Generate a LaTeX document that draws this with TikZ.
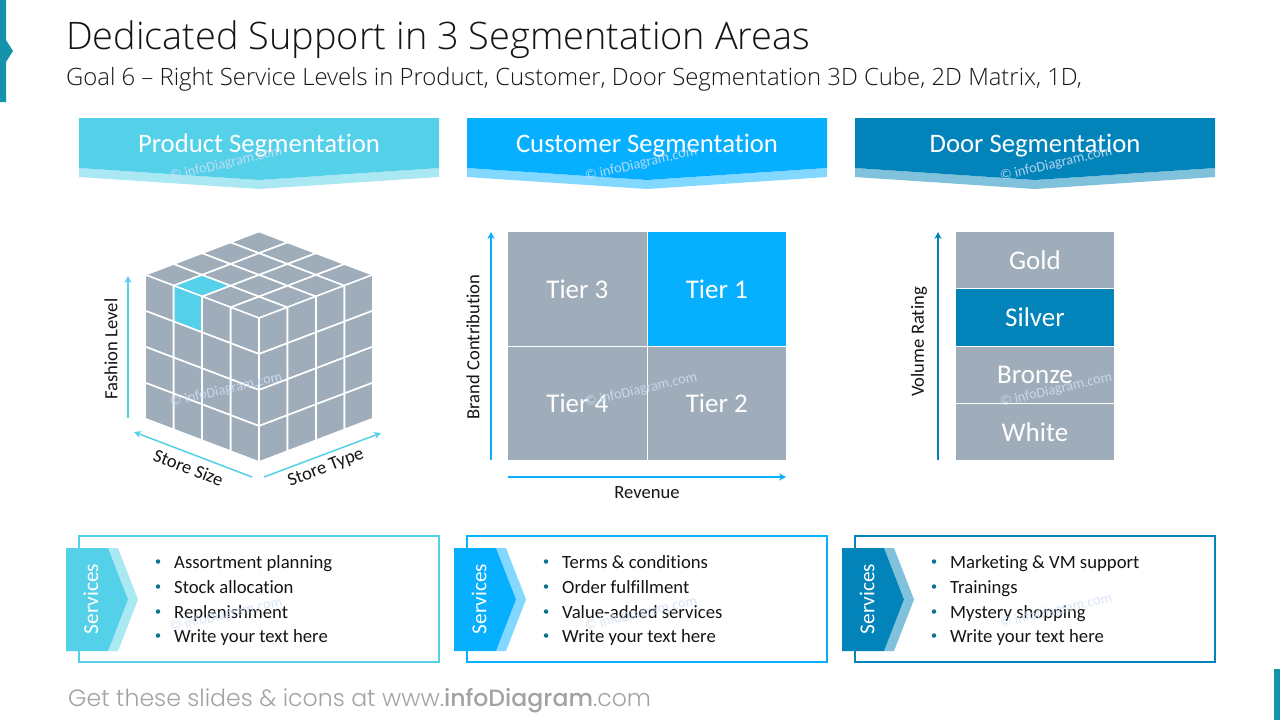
\documentclass[tikz,border=0pt]{standalone}
\usepackage{fontspec}
\setmainfont{Carlito}[Ligatures=NoCommon]
\newfontfamily\footfont{Poppins Light}[BoldFont={Poppins Medium}]
\newfontfamily\headfont{Open Sans Light}
\usetikzlibrary{arrows.meta,calc}
\definecolor{cA}{HTML}{55D0E9}\definecolor{cAl}{HTML}{AAE8F4}
\definecolor{cB}{HTML}{07B0FF}\definecolor{cBl}{HTML}{83D8FF}
\definecolor{cC}{HTML}{0284BA}\definecolor{cCl}{HTML}{80C1DC}
\definecolor{gr}{HTML}{9FADBA}\definecolor{teal}{HTML}{1593AA}
\definecolor{ink}{HTML}{151515}\definecolor{bul}{HTML}{0F6E93}
\definecolor{wm}{HTML}{D0E0F5}\definecolor{foot}{HTML}{A3A3A3}
\tikzset{
 px/.style={font=\fontsize{#1}{#1}\selectfont,inner sep=0pt},
 axis/.style={line width=1.5pt,-{Stealth[length=7pt,width=7pt]}},
 lab/.style={px=18.6,text=ink},
 cell/.style={fill=gr,draw=white,line width=1.6pt,line join=round},
 tier/.style={fill=gr,draw=white,line width=0.8pt,px=27,text=white,minimum width=139.6pt,minimum height=114.6pt,outer sep=0pt},
 rung/.style={fill=gr,draw=white,line width=0.8pt,px=27,text=white,minimum width=158.6pt,minimum height=57.4pt,outer sep=0pt},
 wmark/.style={px=14.3,text=wm,opacity=.85,rotate=13},
 item/.style={px=18.7,text=ink,anchor=base west},
 dot/.style={circle,fill=bul,minimum size=4.5pt,inner sep=0pt},
}
\newcommand{\segm}[5]{% offset, main, light, title, id
 \begin{scope}[xshift=#1pt]
  \fill[#3] (79,168) -- (259,180) -- (439,168) -- (439,177) -- (259,189) -- (79,177) -- cycle;
  \fill[#2] (79,118) -- (439,118) -- (439,168) -- (259,180) -- (79,168) -- cycle;
  \node[px=26.7,text=white] (head#5) at (259,145.5) {#4};
  \node[draw=#2,line width=2pt,outer sep=0pt,minimum width=360pt,minimum height=126pt,inner sep=0pt,anchor=north west] (box#5) at (79,536) {};
  \fill[#3] (108,548) -- (118,548) -- (138,599.5) -- (118,651) -- (108,651) -- (128,599.5) -- cycle;
  \fill[#2] (66,548) -- (108,548) -- (128,599.5) -- (108,651) -- (66,651) -- cycle;
  \node[px=21.3,text=white,rotate=90] (serv#5) at (91,599) {Services};
 \end{scope}}
\newcommand{\bulls}[5]{%
 \begin{scope}[xshift=#1pt]
  \foreach \yy/\tt in {568/{#2},593/{#3},618/{#4},642/{#5}}{
   \node[dot] at (158,\yy-6.5) {};
   \node[item] at (174,\yy) {\tt};
  }
 \end{scope}}
\newcommand{\low}[1]{\raisebox{-1pt}{#1}}
\begin{document}
\begin{tikzpicture}[x=1pt,y=-1pt]
\useasboundingbox (0,0) rectangle (1280,720);
\fill[white] (0,0) rectangle (1280,720);
\fill[teal] (0,0) -- (6,0) -- (6,40) -- (13,51) -- (6,62) -- (6,102) -- (0,102) -- cycle;
\fill[teal] (1274,669) rectangle (1280,720);
\node[text=ink,inner sep=0pt,anchor=base west,font=\fontsize{37.9}{38}\headfont] (title) at (66,49) {Dedicated Support in 3 Segmentation Areas};
\node[text=ink,inner sep=0pt,anchor=base west,font=\fontsize{23.86}{24}\headfont] (sub) at (66,85) {Goal 6 – Right Service Levels in Product, Customer, Door Segmentation 3D Cube, 2D Matrix, 1D,};
\segm{0}{cA}{cAl}{Product Segmentation}{a}
\segm{388}{cB}{cBl}{Customer Segmentation}{b}
\segm{776}{cC}{cCl}{Door Segmentation}{c}
\bulls{0}{Assortment planning}{Stock allocation}{Replenishment}{Write your text here}
\bulls{388}{Terms \& conditions}{Order fulfillment}{Value-added services}{Write your text here}
\bulls{776}{Marketing \& VM support}{Trainings}{Mystery shopping}{Write your text here}
% cube: top face
\foreach \i in {0,...,3}\foreach \j in {0,...,3}{
 \pgfmathsetmacro\cl{(\i==1 && \j==3) ? 1 : 0}
 \ifdim\cl pt=1pt\def\ff{cA}\else\def\ff{gr}\fi
 \draw[cell,fill=\ff,rounded corners=1pt]
  ($(259,231.5)+\i*(28.5,10.85)+\j*(-28.5,10.85)$) --
  ($(259,231.5)+\i*(28.5,10.85)+\j*(-28.5,10.85)+(28.5,10.85)$) --
  ($(259,231.5)+\i*(28.5,10.85)+\j*(-28.5,10.85)+(0,21.7)$) --
  ($(259,231.5)+\i*(28.5,10.85)+\j*(-28.5,10.85)+(-28.5,10.85)$) -- cycle;
}
% cube: left and right faces
\foreach \i in {0,...,3}\foreach \j in {0,...,3}{
 \pgfmathsetmacro\cl{(\i==2 && \j==0) ? 1 : 0}
 \ifdim\cl pt=1pt\def\ff{cA}\else\def\ff{gr}\fi
 \draw[cell,fill=\ff]
  ($(259,318)+\i*(-28.5,-10.85)+\j*(0,36)$) --
  ($(259,318)+\i*(-28.5,-10.85)+\j*(0,36)+(-28.5,-10.85)$) --
  ($(259,318)+\i*(-28.5,-10.85)+\j*(0,36)+(-28.5,25.15)$) --
  ($(259,318)+\i*(-28.5,-10.85)+\j*(0,36)+(0,36)$) -- cycle;
 \draw[cell]
  ($(259,318)+\i*(28.5,-10.85)+\j*(0,36)$) --
  ($(259,318)+\i*(28.5,-10.85)+\j*(0,36)+(28.5,-10.85)$) --
  ($(259,318)+\i*(28.5,-10.85)+\j*(0,36)+(28.5,25.15)$) --
  ($(259,318)+\i*(28.5,-10.85)+\j*(0,36)+(0,36)$) -- cycle;
}
\coordinate (fa) at (128,418); \coordinate (fb) at (128,276);
\coordinate (sa) at (252,477); \coordinate (sb) at (134,432);
\coordinate (ta) at (264,477); \coordinate (tb) at (381,433);
\draw[axis,cA] (fa) -- (fb);
\draw[axis,cA] (sa) -- (sb);
\draw[axis,cA] (ta) -- (tb);
\node[lab,rotate=90] (fl) at (111,349) {Fashion Level};
\node[lab,rotate=-21] (ss) at (188.5,467.5) {Store Size};
\node[lab,rotate=21] (st) at (326,468) {Store Type};
% matrix
\node[tier] (t3) at (577.4,289) {\low{Tier 3}};
\node[tier,fill=cB] (t1) at (716.8,289) {\low{Tier 1}};
\node[tier] (t4) at (577.4,403.4) {\low{Tier 4}};
\node[tier] (t2) at (716.8,403.4) {\low{Tier 2}};
\coordinate (ba) at (491,460); \coordinate (bb) at (491,232);
\coordinate (ra) at (508,477); \coordinate (rb) at (786,477);
\draw[axis,cB] (ba) -- (bb);
\draw[axis,cB] (ra) -- (rb);
\node[lab,rotate=90] (bc) at (473,347) {Brand Contribution};
\node[lab] (rev) at (647,493) {Revenue};
% stack
\node[rung] (gold) at (1035,260) {\low{Gold}};
\node[rung,fill=cC] (silver) at (1035,317.5) {\low{Silver}};
\node[rung] (bronze) at (1035,375) {\low{Bronze}};
\node[rung] (white) at (1035,432) {\low{White}};
\coordinate (va) at (938,460); \coordinate (vb) at (938,232);
\draw[axis,cC] (va) -- (vb);
\node[lab,rotate=90] (vr) at (919,342) {Volume Rating};
% watermarks
\foreach \xx/\yy/\nn in {226/164/a,641/164/b,1056/164/c,226/390/d,641/390/e,1056/390/f,226/615/g,641/614/h,1056/611/i}{
 \node[wmark] (w\nn) at (\xx,\yy) {© infoDiagram.com};
}
\node[px=23.6,text=foot,anchor=base west] (footer) at (68,706) {\footfont Get these slides \& icons at www.\textbf{infoDiagram}.com};
\end{tikzpicture}
\end{document}
